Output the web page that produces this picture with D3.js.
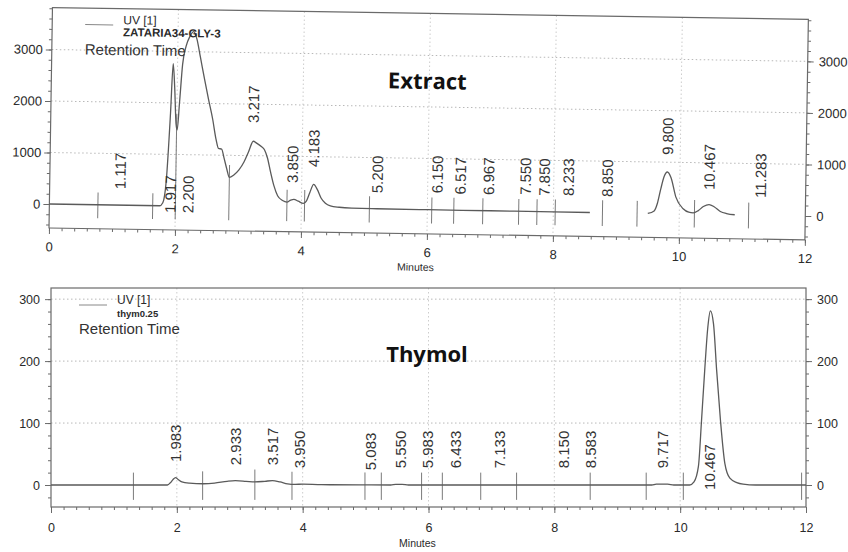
<!DOCTYPE html>
<html><head><meta charset="utf-8">
<script src="https://cdn.jsdelivr.net/npm/d3@7"></script>
<style>
body{margin:0;background:#fff}
svg{display:block}
text{font-family:"Liberation Sans",Arial,sans-serif}
</style>
</head><body>
<svg id="chart" width="848" height="552"></svg>
<script>
// ---------------- DATA ----------------
const xTicks = [0, 2, 4, 6, 8, 10, 12];

// Extract chromatogram (ZATARIA34-GLY-3); null = no trace drawn
const extractTime = [0, 1.0, 1.75, 1.8, 1.85, 1.9, 1.93, 1.96, 1.99, 2.01, 2.04, 2.08, 2.13, 2.19, 2.25, 2.3, 2.36, 2.43, 2.5, 2.57, 2.63, 2.67, 2.72, 2.76, 2.81, 2.85, 2.92, 3.0, 3.08, 3.15, 3.22, 3.28, 3.35, 3.4, 3.45, 3.5, 3.56, 3.62, 3.7, 3.77, 3.83, 3.88, 3.95, 4.03, 4.08, 4.13, 4.19, 4.25, 4.31, 4.38, 4.46, 4.6, 4.8, 5.2, 6.0, 7.0, 8.0, 8.58, 9.0, 9.5, 9.6, 9.65, 9.7, 9.75, 9.8, 9.86, 9.94, 10.06, 10.15, 10.22, 10.3, 10.38, 10.47, 10.55, 10.65, 10.75, 10.88];
const extractSignal = [0, 0, 0, 60, 500, 1800, 2760, 2300, 1600, 1480, 2000, 2750, 3100, 3300, 3390, 3250, 2900, 2480, 2080, 1700, 1300, 1130, 1120, 950, 720, 570, 620, 720, 880, 1080, 1280, 1240, 1180, 1120, 960, 700, 420, 230, 140, 110, 150, 165, 130, 90, 140, 300, 460, 360, 200, 100, 50, 25, 12, 8, 5, 3, 0, 0, null, 0, 50, 200, 480, 720, 810, 700, 330, 100, 35, 25, 70, 150, 190, 150, 60, 20, 0];
const extractYTicks = [0, 1000, 2000, 3000];
const extractLabelTimes = [1.117, 1.917, 2.200, 3.217, 3.850, 4.183, 5.200, 6.150, 6.517, 6.967, 7.550, 7.850, 8.233, 8.850, 9.800, 10.467, 11.283];
const extractLabelLevel = [310, -136, -136, 1635, 482, 798, 310, 330, 310, 310, 320, 310, 315, 307, 1140, 474, 334];
const extractMarkTimes = [0.77, 1.64, 2.0, 2.85, 3.77, 4.05, 5.08, 6.07, 6.42, 6.88, 7.45, 7.74, 8.03, 8.78, 9.33, 10.24, 11.1];

// Thymol chromatogram (thym0.25)
const thymolTime = [0, 1.0, 1.85, 1.9, 1.94, 1.98, 2.02, 2.08, 2.2, 2.42, 2.6, 2.8, 2.93, 3.1, 3.24, 3.4, 3.52, 3.64, 3.76, 3.88, 4.0, 4.3, 4.9, 5.4, 5.48, 5.58, 5.68, 6.5, 7.5, 8.5, 9.55, 9.62, 9.8, 9.9, 10.15, 10.22, 10.29, 10.34, 10.39, 10.44, 10.48, 10.53, 10.58, 10.64, 10.71, 10.79, 10.9, 11.0, 11.2, 12.0];
const thymolSignal = [0, 0, 0, 4, 9, 12, 9, 5, 3, 2, 3, 6, 7, 6, 5, 6, 7, 5, 2, 1, 1.5, 0.5, 0.3, 0, 1, 1, 0, 0, 0, 0, 0, 1.5, 1.5, 0, 0, 5, 30, 105, 185, 255, 281, 260, 185, 105, 35, 11, 4, 1.5, 0, 0];
const thymolYTicks = [0, 100, 200, 300];
const thymolLabelTimes = [1.983, 2.933, 3.517, 3.950, 5.083, 5.550, 5.983, 6.433, 7.133, 8.150, 8.583, 9.717, 10.467];
const thymolLabelLevel = [37, 32, 32, 27, 24, 27, 27, 27, 27, 27, 27, 27, -8];
const thymolMarkTimes = [1.31, 2.41, 3.24, 3.83, 4.99, 5.25, 5.89, 6.22, 6.83, 7.40, 8.57, 9.46, 10.05, 11.93];

// ---------------- DRAW ----------------
const svg = d3.select("#chart");
const INK = "#2a2a2a", FRAME = "#6a6a6a", TRACE = "#5a5a5a", GRID = "#b8b8b8";
const fmt = d3.format(".3f");

function valueAt(times, vals, t) {
  const i = d3.bisectRight(times, t);
  if (i <= 0) return vals[0] || 0;
  if (i >= times.length) return vals[times.length - 1] || 0;
  const a = vals[i - 1] == null ? 0 : vals[i - 1], b = vals[i] == null ? 0 : vals[i];
  const f = (t - times[i - 1]) / (times[i] - times[i - 1]);
  return a + (b - a) * f;
}

function panel(cfg) {
  const g = svg.append("g").attr("transform", cfg.transform || null);
  const x = d3.scaleLinear().domain([0, 12]).range(cfg.xRange);
  const y = d3.scaleLinear().domain(cfg.yDomain).range(cfg.yRange);
  const [x0, x1] = cfg.xRange, [yb, yt] = cfg.yRange;

  // gridlines
  g.append("g").selectAll("line").data(cfg.yTicks.filter(d => d !== 0)).join("line")
    .attr("x1", x0).attr("x2", x1).attr("y1", d => y(d)).attr("y2", d => y(d))
    .attr("stroke", GRID).attr("stroke-width", 1).attr("stroke-dasharray", "1.5,2.5");
  g.append("g").selectAll("line").data(xTicks.filter(d => d > 0 && d < 12)).join("line")
    .attr("x1", d => x(d)).attr("x2", d => x(d)).attr("y1", yt).attr("y2", yb)
    .attr("stroke", GRID).attr("stroke-width", 1).attr("stroke-dasharray", "1.5,2.5")
    .attr("opacity", 0.7);

  // frame
  g.append("rect").attr("x", x0).attr("y", yt).attr("width", x1 - x0).attr("height", yb - yt)
    .attr("fill", "none").attr("stroke", FRAME).attr("stroke-width", 1.2);

  function styleAxis(a, fs) {
    a.select(".domain").remove();
    a.selectAll("line").attr("stroke", FRAME).attr("stroke-width", 1);
    a.selectAll("text").attr("fill", INK).style("font-size", fs + "px")
      .style("font-family", '"Liberation Sans", Arial, sans-serif');
  }
  // minor ticks
  const minorY = d3.range(cfg.yMinor[0], cfg.yMinor[1] + 1e-9, cfg.yMinor[2]);
  const minorX = d3.range(0, 12.0001, 0.2);
  styleAxis(g.append("g").attr("transform", `translate(${x0},0)`)
    .call(d3.axisLeft(y).tickValues(minorY).tickSize(3).tickFormat("")), 10);
  styleAxis(g.append("g").attr("transform", `translate(${x1},0)`)
    .call(d3.axisRight(y).tickValues(minorY).tickSize(3).tickFormat("")), 10);
  styleAxis(g.append("g").attr("transform", `translate(0,${yb})`)
    .call(d3.axisBottom(x).tickValues(minorX).tickSize(3).tickFormat("")), 10);
  // major ticks
  styleAxis(g.append("g").attr("transform", `translate(${x0},0)`)
    .call(d3.axisLeft(y).tickValues(cfg.yTicks).tickSize(6).tickPadding(cfg.yPad).tickFormat(d3.format("d"))), cfg.yFont);
  styleAxis(g.append("g").attr("transform", `translate(${x1},0)`)
    .call(d3.axisRight(y).tickValues(cfg.yTicks).tickSize(6).tickPadding(5).tickFormat(d3.format("d"))), cfg.yFont);
  styleAxis(g.append("g").attr("transform", `translate(0,${yb})`)
    .call(d3.axisBottom(x).tickValues(xTicks).tickSize(6).tickPadding(cfg.xPad).tickFormat(d3.format("d"))), cfg.xFont);

  g.append("text").attr("x", (x0 + x1) / 2 - 11).attr("y", yb + cfg.minutesDy)
    .attr("text-anchor", "middle").attr("fill", INK).style("font-size", "10.5px").text("Minutes");

  // integration markers
  g.append("g").selectAll("line").data(cfg.marks).join("line")
    .attr("x1", d => x(d)).attr("x2", d => x(d))
    .attr("y1", d => y(valueAt(cfg.time, cfg.signal, d) + cfg.markUp))
    .attr("y2", d => y(-cfg.markDown))
    .attr("stroke", "#7a7a7a").attr("stroke-width", 1);

  // trace
  const pts = cfg.time.map((t, i) => [t, cfg.signal[i]]);
  g.append("path").datum(pts)
    .attr("d", d3.line().defined(d => d[1] != null).x(d => x(d[0])).y(d => y(d[1])).curve(d3.curveMonotoneX))
    .attr("fill", "none").attr("stroke", TRACE).attr("stroke-width", 1.3);

  // retention time labels
  g.append("g").selectAll("text").data(cfg.labels.map((t, i) => [t, cfg.levels[i]])).join("text")
    .attr("transform", d => `translate(${x(d[0])},${y(d[1])}) rotate(-90)`)
    .attr("dy", "0.36em").attr("fill", "#333").style("font-size", "15px")
    .text(d => fmt(d[0]));

  // legend
  const L = cfg.legend;
  g.append("line").attr("x1", L.x).attr("x2", L.x + 28).attr("y1", L.lineY).attr("y2", L.lineY)
    .attr("stroke", "#888").attr("stroke-width", 1);
  g.append("text").attr("x", L.x + 38).attr("y", L.uvY).attr("fill", INK).style("font-size", "12px").text("UV [1]");
  g.append("text").attr("x", L.x + 38).attr("y", L.nameY).attr("fill", INK)
    .style("font-size", L.nameFont + "px").style("font-weight", "bold").text(L.name);
  g.append("text").attr("x", L.x).attr("y", L.rtY).attr("fill", "#333").style("font-size", "15px").text("Retention Time");

  // title
  g.append("text").attr("x", cfg.title.x).attr("y", cfg.title.y).attr("text-anchor", "middle")
    .attr("fill", "#111").style("font-family", '"Open Sans", "Noto Sans", sans-serif')
    .style("font-weight", "bold").style("font-size", "22px").text(cfg.title.text);
}

panel({
  transform: "rotate(0.9,49,228)",
  xRange: [49, 805], yDomain: [-466, 3815], yRange: [228, 7.5],
  yTicks: extractYTicks, yMinor: [-400, 3800, 200], yPad: 3, yFont: 13, xPad: 8, xFont: 13, minutesDy: 37,
  time: extractTime, signal: extractSignal, marks: extractMarkTimes, markUp: 240, markDown: 260,
  labels: extractLabelTimes, levels: extractLabelLevel,
  legend: { x: 82, lineY: 24, uvY: 23, nameY: 35, nameFont: 11.5, name: "ZATARIA34-GLY-3", rtY: 54 },
  title: { x: 425, y: 83, text: "Extract" }
});

panel({
  xRange: [51, 806], yDomain: [-35.5, 318], yRange: [507, 288],
  yTicks: thymolYTicks, yMinor: [-20, 300, 20], yPad: 5, yFont: 12.5, xPad: 10, xFont: 12.5, minutesDy: 40,
  time: thymolTime, signal: thymolSignal, marks: thymolMarkTimes, markUp: 20, markDown: 24,
  labels: thymolLabelTimes, levels: thymolLabelLevel,
  legend: { x: 79, lineY: 305, uvY: 304, nameY: 317, nameFont: 9.5, name: "thym0.25", rtY: 334 },
  title: { x: 427, y: 362, text: "Thymol" }
});
</script>
</body></html>
